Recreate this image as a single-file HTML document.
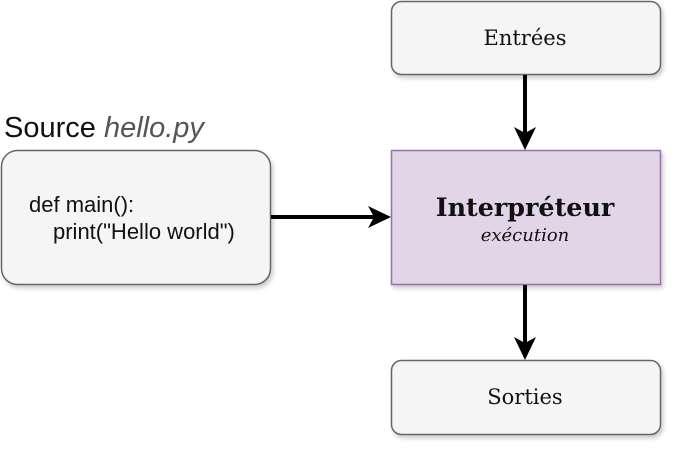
<!DOCTYPE html>
<html><head><style>
body{margin:0;width:678px;height:453px;background:#fff;overflow:hidden}
</style></head><body>
<svg width="678" height="453" xmlns="http://www.w3.org/2000/svg">
<defs>
<filter id="sh" x="-10%" y="-10%" width="130%" height="130%"><feDropShadow dx="2" dy="3" stdDeviation="2" flood-color="#000" flood-opacity="0.2"/></filter>
</defs>
<g filter="url(#sh)">
<rect x="391.5" y="1.5" width="269" height="73" rx="10" fill="#f5f5f5" stroke="#666" stroke-width="1.5"/>
<rect x="391.5" y="150.5" width="269" height="134" fill="#e1d5e7" stroke="#9673a6" stroke-width="1.5"/>
<rect x="391.5" y="360.5" width="269" height="74" rx="10" fill="#f5f5f5" stroke="#666" stroke-width="1.5"/>
<rect x="1.5" y="150.5" width="269" height="134" rx="16" fill="#f5f5f5" stroke="#666" stroke-width="1.5"/>
</g>
<g stroke="#000" stroke-width="4">
<line x1="271" y1="217" x2="375" y2="217"/>
<line x1="525" y1="75" x2="525" y2="134"/>
<line x1="525" y1="285" x2="525" y2="344"/>
</g>
<g fill="#000">
<polygon points="391,217 368,206 374,217 368,228"/>
<polygon points="525,150 514,127 525,133 536,127"/>
<polygon points="525,360 514,337 525,343 536,337"/>
</g>
<g font-family="DejaVu Serif, serif" text-anchor="middle" fill="#111">
<text x="525" y="45" font-size="21">Entrées</text>
<text x="525" y="216" font-size="25.4" font-weight="bold">Interpréteur</text>
<text x="525" y="241" font-size="18" font-style="italic">exécution</text>
<text x="525" y="404" font-size="21">Sorties</text>
</g>
<g font-family="Liberation Sans, sans-serif" fill="#111">
<text x="4" y="137" font-size="29">Source <tspan font-style="italic" fill="#555">hello.py</tspan></text>
<text x="29" y="212" font-size="22">def main():</text>
<text x="53" y="239" font-size="22">print("Hello world")</text>
</g>
</svg>
</body></html>
